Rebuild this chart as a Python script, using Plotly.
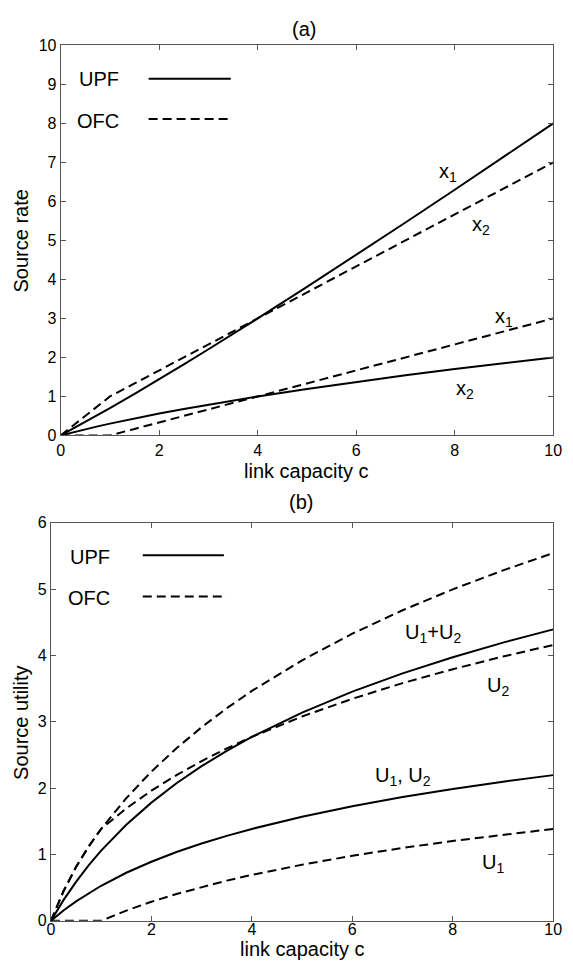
import plotly.graph_objects as go

# link capacity values (shared x for all curves)
c = [0, 0.25, 0.5, 0.75, 1, 1.5, 2, 2.5, 3, 3.5, 4, 5, 6, 7, 8, 9, 10]

# (a) source rates
upf_x1 = [0, 0.169, 0.342, 0.518, 0.697, 1.064, 1.438, 1.821, 2.209, 2.602, 3.0, 3.807, 4.628, 5.459, 6.298, 7.146, 8.0]
upf_x2 = [0, 0.081, 0.158, 0.232, 0.303, 0.436, 0.562, 0.679, 0.791, 0.898, 1.0, 1.193, 1.372, 1.541, 1.702, 1.854, 2.0]
ofc_x1 = [0, 0, 0, 0, 0, 0.167, 0.333, 0.5, 0.667, 0.833, 1.0, 1.333, 1.667, 2.0, 2.333, 2.667, 3.0]
ofc_x2 = [0, 0.25, 0.5, 0.75, 1.0, 1.333, 1.667, 2.0, 2.333, 2.667, 3.0, 3.667, 4.333, 5.0, 5.667, 6.333, 7.0]

# (b) source utilities
upf_u = [0, 0.156, 0.294, 0.417, 0.529, 0.725, 0.891, 1.037, 1.166, 1.281, 1.386, 1.570, 1.728, 1.866, 1.988, 2.098, 2.197]
upf_sum = [0, 0.312, 0.588, 0.835, 1.058, 1.449, 1.782, 2.074, 2.332, 2.563, 2.773, 3.140, 3.456, 3.731, 3.975, 4.195, 4.394]
ofc_u1 = [0, 0, 0, 0, 0, 0.154, 0.288, 0.405, 0.511, 0.606, 0.693, 0.847, 0.981, 1.099, 1.204, 1.299, 1.386]
ofc_u2 = [0, 0.446, 0.811, 1.119, 1.386, 1.695, 1.962, 2.197, 2.408, 2.599, 2.773, 3.081, 3.348, 3.584, 3.794, 3.985, 4.159]
ofc_sum = [0, 0.446, 0.811, 1.119, 1.386, 1.849, 2.250, 2.602, 2.919, 3.205, 3.466, 3.928, 4.329, 4.683, 4.998, 5.284, 5.545]

W, H = 573, 977
FONT = "Liberation Sans, Arial, Helvetica, sans-serif"
DASH = "9px,5px"

fig = go.Figure()

def add(xs, ys, dash, xa, ya):
    fig.add_trace(go.Scatter(x=xs, y=ys, mode="lines", xaxis=xa, yaxis=ya,
                             line=dict(color="black", width=2, dash=dash),
                             showlegend=False, hoverinfo="skip"))

add(c, upf_x1, "solid", "x", "y")
add(c, upf_x2, "solid", "x", "y")
add(c, ofc_x1, DASH, "x", "y")
add(c, ofc_x2, DASH, "x", "y")

add(c, upf_u, "solid", "x2", "y2")
add(c, upf_sum, "solid", "x2", "y2")
add(c, ofc_u1, DASH, "x2", "y2")
add(c, ofc_u2, DASH, "x2", "y2")
add(c, ofc_sum, DASH, "x2", "y2")

def px(x):
    return x / W

def py(y):
    return 1 - y / H

axis_common = dict(showline=True, mirror="ticks", linecolor="#555", linewidth=1,
                   ticks="inside", ticklen=5, tickcolor="#555", showgrid=False,
                   zeroline=False, tickfont=dict(size=16, color="black", family=FONT))

fig.update_layout(
    width=W, height=H, margin=dict(l=0, r=0, t=0, b=0),
    paper_bgcolor="white", plot_bgcolor="white",
    font=dict(family=FONT, color="black"),
    xaxis=dict(domain=[px(58), px(562)], range=[0, 10], tickvals=[0, 2, 4, 6, 8, 10],
               anchor="y", **axis_common),
    yaxis=dict(domain=[py(435), py(38)], range=[0, 10], tickvals=list(range(0, 11)),
               anchor="x", **axis_common),
    xaxis2=dict(domain=[px(48), px(562)], range=[0, 10], tickvals=[0, 2, 4, 6, 8, 10],
                anchor="y2", ticklabelstandoff=-6, **axis_common),
    yaxis2=dict(domain=[py(929), py(524)], range=[0, 6], tickvals=list(range(0, 7)),
                anchor="x2", **axis_common),
)

ann = []
def txt(x, y, s, xref="paper", yref="paper", xanchor="center", yanchor="middle", size=20, angle=0):
    ann.append(dict(x=x, y=y, xref=xref, yref=yref, text=s, showarrow=False,
                    xanchor=xanchor, yanchor=yanchor, textangle=angle,
                    font=dict(size=size, color="black", family=FONT)))

# titles
txt(px(307), py(21), "(a)")
txt(px(304), py(503), "(b)")
# axis titles
txt(px(310), py(471), "link capacity c")
txt(px(305), py(958), "link capacity c")
txt(px(17), py(237), "Source rate", angle=-90)
txt(px(18), py(727), "Source utility", angle=-90)

# legends
txt(px(75), py(72), "UPF", xanchor="left")
txt(px(73), py(115), "OFC", xanchor="left")
txt(px(65), py(559), "UPF", xanchor="left")
txt(px(63), py(600), "OFC", xanchor="left")

shapes = []
def seg(x0, x1, y, dash):
    shapes.append(dict(type="line", xref="paper", yref="paper", x0=px(x0), x1=px(x1),
                       y0=py(y), y1=py(y), line=dict(color="black", width=2, dash=dash)))
seg(148, 232, 72, "solid")
seg(148, 233, 113, DASH)
seg(142, 225, 557, "solid")
seg(142, 228, 599, DASH)

# curve labels (data coordinates)
txt(7.64, 6.75, "x<sub>1</sub>", "x", "y", xanchor="left")
txt(8.31, 5.37, "x<sub>2</sub>", "x", "y", xanchor="left")
txt(8.77, 3.02, "x<sub>1</sub>", "x", "y", xanchor="left")
txt(7.98, 1.18, "x<sub>2</sub>", "x", "y", xanchor="left")

txt(7.00, 4.33, "U<sub>1</sub>+U<sub>2</sub>", "x2", "y2", xanchor="left")
txt(8.64, 3.54, "U<sub>2</sub>", "x2", "y2", xanchor="left")
txt(6.42, 2.18, "U<sub>1</sub>, U<sub>2</sub>", "x2", "y2", xanchor="left")
txt(8.54, 0.87, "U<sub>1</sub>", "x2", "y2", xanchor="left")

fig.update_layout(annotations=ann, shapes=shapes)
fig.write_html("out.html", config={"displayModeBar": False},
               post_script="document.body.style.margin='0';document.body.style.padding='0';")
